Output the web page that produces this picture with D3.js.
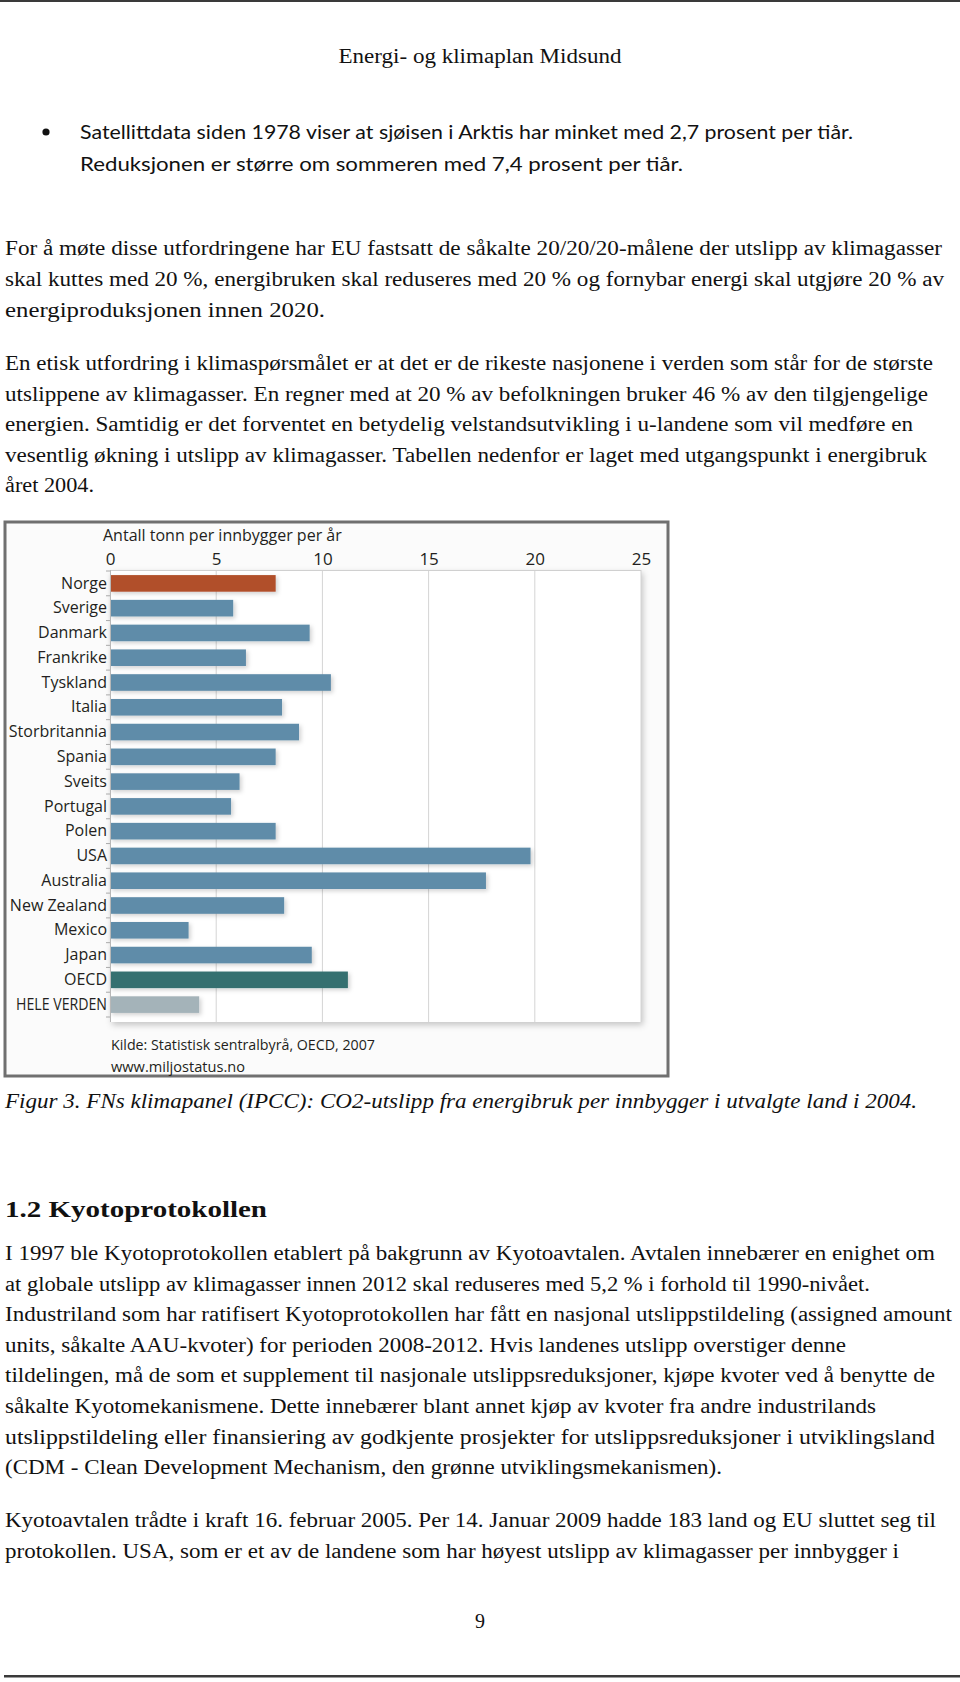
<!DOCTYPE html>
<html><head><meta charset="utf-8">
<script src="https://cdn.jsdelivr.net/npm/d3@7"></script>
<style>
body{margin:0;background:#fff}
svg{display:block}
.body{font-family:"Liberation Serif","Times New Roman",serif;font-size:20px;fill:#111}
.bullet{font-family:Lato,"Noto Sans",sans-serif;font-size:20px;fill:#111}
.cap{font-family:"Liberation Serif",serif;font-style:italic;font-size:20px;fill:#111}
.head{font-family:"Liberation Serif",serif;font-weight:bold;font-size:23px;fill:#111}
.ch{font-family:"Open Sans",sans-serif;font-size:16px;fill:#231f20}
</style>
</head><body>
<svg id="page" width="960" height="1682"></svg>
<script>
// ---------- chart data ----------
const countries = ["Norge","Sverige","Danmark","Frankrike","Tyskland","Italia","Storbritannia","Spania","Sveits","Portugal","Polen","USA","Australia","New Zealand","Mexico","Japan","OECD","HELE VERDEN"];
const values = [7.8,5.8,9.4,6.4,10.4,8.1,8.9,7.8,6.1,5.7,7.8,19.8,17.7,8.2,3.7,9.5,11.2,4.2];
const groups = ["norge","land","land","land","land","land","land","land","land","land","land","land","land","land","land","land","oecd","verden"];
const xTicks = [0,5,10,15,20,25];
const axisTitle = "Antall tonn per innbygger per år";
const sourceLines = ["Kilde: Statistisk sentralbyrå, OECD, 2007","www.miljostatus.no"];

// ---------- page text ----------
const header = "Energi- og klimaplan Midsund";
const bulletLines = ["Satellittdata siden 1978 viser at sjøisen i Arktis har minket med 2,7 prosent per tiår.",
 "Reduksjonen er større om sommeren med 7,4 prosent per tiår."];
const para1 = ["For å møte disse utfordringene har EU fastsatt de såkalte 20/20/20-målene der utslipp av klimagasser",
 "skal kuttes med 20 %, energibruken skal reduseres med 20 % og fornybar energi skal utgjøre 20 % av",
 "energiproduksjonen innen 2020."];
const para2 = ["En etisk utfordring i klimaspørsmålet er at det er de rikeste nasjonene i verden som står for de største",
 "utslippene av klimagasser. En regner med at 20 % av befolkningen bruker 46 % av den tilgjengelige",
 "energien. Samtidig er det forventet en betydelig velstandsutvikling i u-landene som vil medføre en",
 "vesentlig økning i utslipp av klimagasser. Tabellen nedenfor er laget med utgangspunkt i energibruk",
 "året 2004."];
const caption = "Figur 3. FNs klimapanel (IPCC): CO2-utslipp fra energibruk per innbygger i utvalgte land i 2004.";
const heading = "1.2 Kyotoprotokollen";
const para3 = ["I 1997 ble Kyotoprotokollen etablert på bakgrunn av Kyotoavtalen. Avtalen innebærer en enighet om",
 "at globale utslipp av klimagasser innen 2012 skal reduseres med 5,2 % i forhold til 1990-nivået.",
 "Industriland som har ratifisert Kyotoprotokollen har fått en nasjonal utslippstildeling (assigned amount",
 "units, såkalte AAU-kvoter) for perioden 2008-2012. Hvis landenes utslipp overstiger denne",
 "tildelingen, må de som et supplement til nasjonale utslippsreduksjoner, kjøpe kvoter ved å benytte de",
 "såkalte Kyotomekanismene. Dette innebærer blant annet kjøp av kvoter fra andre industrilands",
 "utslippstildeling eller finansiering av godkjente prosjekter for utslippsreduksjoner i utviklingsland",
 "(CDM - Clean Development Mechanism, den grønne utviklingsmekanismen)."];
const para4 = ["Kyotoavtalen trådte i kraft 16. februar 2005. Per 14. Januar 2009 hadde 183 land og EU sluttet seg til",
 "protokollen. USA, som er et av de landene som har høyest utslipp av klimagasser per innbygger i"];
const pageNo = "9";

// ---------- layout (widths of set lines, px) ----------
const W1 = [937, 939, 320];
const W2 = [928, 923, 908, 922, 89];
const W3 = [930, 865, 947, 841, 930, 871, 930, 717];
const W4 = [931, 894];
const WB = [773, 603];

const svg = d3.select("#page");
const colors = {norge:"#b14f29", land:"#5f8ca9", oecd:"#35706f", verden:"#a4b3b9"};

const defs = svg.append("defs");
const f1 = defs.append("filter").attr("id","sh").attr("x","-10%").attr("y","-10%").attr("width","130%").attr("height","130%");
f1.append("feDropShadow").attr("dx",2).attr("dy",3).attr("stdDeviation",3).attr("flood-color","#000").attr("flood-opacity",0.22);
const f2 = defs.append("filter").attr("id","bsh").attr("x","-10%").attr("y","-40%").attr("width","130%").attr("height","200%");
f2.append("feDropShadow").attr("dx",2).attr("dy",2).attr("stdDeviation",2).attr("flood-color","#000").attr("flood-opacity",0.18);

function line(txt, x, y, w, cls, anchor){
  const t = svg.append("text").attr("x",x).attr("y",y).attr("class",cls).text(txt);
  if (anchor) t.attr("text-anchor",anchor);
  if (w) t.attr("textLength",w).attr("lengthAdjust","spacingAndGlyphs");
  return t;
}

// rules
svg.append("rect").attr("x",0).attr("y",0).attr("width",960).attr("height",2).attr("fill","#3a3a3a");
svg.append("rect").attr("x",4).attr("y",1675).attr("width",956).attr("height",2.5).attr("fill","#3a3a3a");

line(header, 480, 63, 283, "body", "middle");
svg.append("circle").attr("cx",46).attr("cy",132).attr("r",3.6).attr("fill","#111");
bulletLines.forEach((t,i)=>line(t, 80, 139+i*31.5, WB[i], "bullet"));
para1.forEach((t,i)=>line(t, 5, 255+i*31, W1[i], "body"));
para2.forEach((t,i)=>line(t, 5, 370+i*30.6, W2[i], "body"));
line(caption, 5, 1108, 912, "cap");
line(heading, 5, 1217, 262, "head");
para3.forEach((t,i)=>line(t, 5, 1260+i*30.6, W3[i], "body"));
para4.forEach((t,i)=>line(t, 5, 1527+i*30.6, W4[i], "body"));
line(pageNo, 480, 1628, null, "body", "middle");

// ---------- chart ----------
const frame = {x:5, y:522, w:663, h:554};
svg.append("rect").attr("x",frame.x).attr("y",frame.y).attr("width",frame.w).attr("height",frame.h)
  .attr("fill","#fbfbfb").attr("stroke","#707070").attr("stroke-width",3);

const x = d3.scaleLinear().domain([0,25]).range([110,641]);
const y = d3.scaleBand().domain(countries).range([571,1017]).paddingInner(0.33).paddingOuter(0.165);

const plotTop = 570, plotBottom = 1022;
svg.append("rect").attr("x",x(0)).attr("y",plotTop).attr("width",x(25)-x(0)).attr("height",plotBottom-plotTop)
  .attr("fill","#fff").attr("filter","url(#sh)");

// grid
svg.append("g").selectAll("line").data(xTicks.slice(1)).join("line")
  .attr("x1",d=>x(d)).attr("x2",d=>x(d)).attr("y1",plotTop).attr("y2",plotBottom)
  .attr("stroke","#d4d4d4").attr("stroke-width",1);
svg.append("line").attr("x1",x(0)).attr("x2",x(25)).attr("y1",plotTop+0.5).attr("y2",plotTop+0.5).attr("stroke","#d0d0d0");

// top axis labels
const xa = svg.append("g").attr("transform",`translate(0,${plotTop})`)
  .call(d3.axisTop(x).tickValues(xTicks).tickSize(0).tickPadding(5).tickFormat(d3.format("d")));
xa.select(".domain").remove();
xa.selectAll("text").attr("class","ch").attr("font-size",null).attr("font-family",null).attr("fill","#231f20").attr("dy","0").style("font-size","17px");

svg.append("text").attr("class","ch").attr("x",103).attr("y",541).text(axisTitle);

// bars
svg.append("g").selectAll("rect").data(countries).join("rect")
  .attr("x",x(0)).attr("y",d=>y(d)).attr("width",(d,i)=>x(values[i])-x(0)).attr("height",y.bandwidth())
  .attr("fill",(d,i)=>colors[groups[i]]).attr("filter","url(#bsh)");

// left axis
const ya = svg.append("g").attr("transform",`translate(${x(0)},0)`)
  .call(d3.axisLeft(y).tickSize(0).tickPadding(3));
ya.select(".domain").attr("stroke","#b8b8b8").attr("d",`M0.5,${plotTop}V${plotBottom}`);
ya.selectAll("text").attr("class","ch").attr("font-size",null).attr("font-family",null).attr("fill","#231f20")
  .each(function(d){ if (this.getComputedTextLength() > 100) d3.select(this).attr("textLength",91).attr("lengthAdjust","spacingAndGlyphs"); });
const bounds = countries.map(c=>y(c)-y.step()*y.paddingInner()/2).concat([y(countries[countries.length-1])+y.bandwidth()+y.step()*y.paddingInner()/2]);
svg.append("g").selectAll("line").data(bounds).join("line")
  .attr("x1",x(0)-4).attr("x2",x(0)).attr("y1",d=>d).attr("y2",d=>d).attr("stroke","#aaa");

// source
svg.append("text").attr("class","ch").attr("x",111).attr("y",1050).attr("textLength",264).attr("lengthAdjust","spacingAndGlyphs").style("font-size","15px").text(sourceLines[0]);
svg.append("text").attr("class","ch").attr("x",111).attr("y",1072).attr("textLength",134).attr("lengthAdjust","spacingAndGlyphs").style("font-size","15px").text(sourceLines[1]);
</script>
</body></html>
